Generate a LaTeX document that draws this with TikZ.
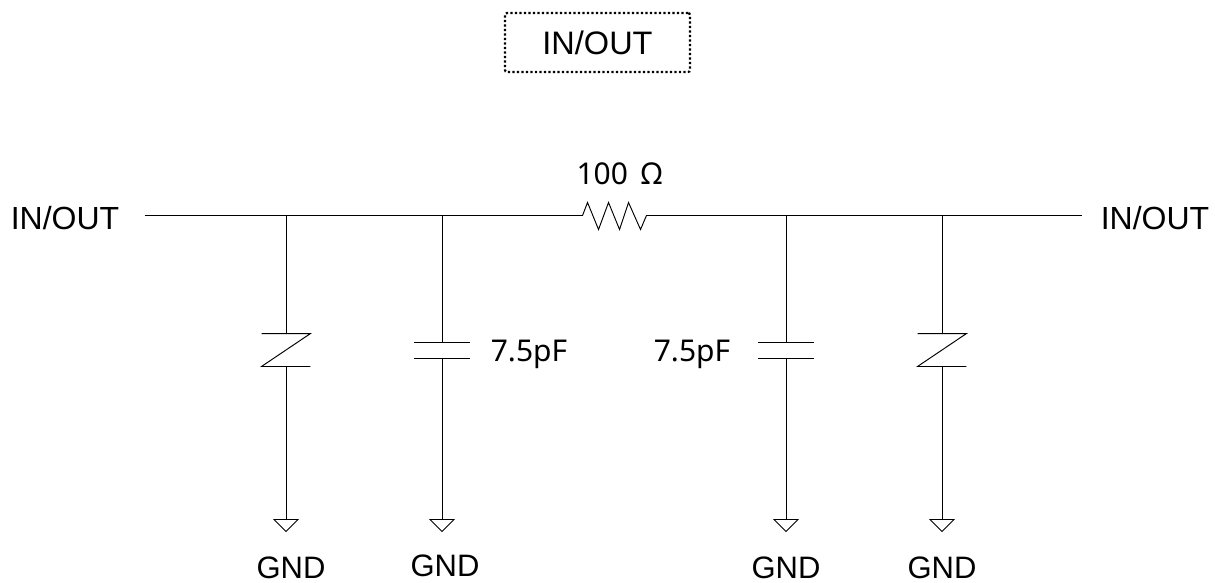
\documentclass[tikz,border=0pt]{standalone}
\usepackage{fontspec}
\setmainfont{Liberation Sans}
\newfontfamily\valuefont{Noto Sans}
\usetikzlibrary{shapes.geometric}
\tikzset{
    port/.style={font=\fontsize{32}{36}\selectfont, inner xsep=25pt, inner ysep=0pt},
    gndtext/.style={font=\fontsize{31}{36}\selectfont, inner sep=0pt},
    value/.style={font=\valuefont\fontsize{30}{36}\selectfont, inner sep=0pt},
    capbox/.style={minimum width=55pt, minimum height=15pt, inner sep=0pt},
    tvsbox/.style={minimum width=48pt, minimum height=32pt, inner sep=0pt},
    resbox/.style={minimum width=63pt, minimum height=27pt, inner sep=0pt},
    gndsym/.style={draw, isosceles triangle, shape border rotate=-90, isosceles triangle stretches,
        minimum width=24pt, minimum height=12pt, inner sep=0pt, anchor=lower side}
}
\begin{document}
\begin{tikzpicture}[x=1pt, y=-1pt, line width=0.95pt]
    \useasboundingbox (0,0) rectangle (1215,583);

                \node [draw, rounded corners=2pt, line width=2.2pt, dash pattern=on 2.2pt off 2.3pt,
                    minimum width=185pt, minimum height=59pt, font=\fontsize{32.5}{36}\selectfont, inner sep=0pt] (legend) at (597.5,42.5) {IN/OUT};

                \node [port] (inL) at (65,218) {IN/OUT};
                \node [port, inner xsep=18pt] (inR) at (1155,218) {IN/OUT};
                \node [resbox] (R1) at (614.5,215.5) {};
                \node [value] (R1val) at (619.5,174) {100\hspace{13pt}Ω};

                \coordinate (J1) at (286,215.5);
                \coordinate (J2) at (442,215.5);
                \coordinate (J3) at (786,215.5);
                \coordinate (J4) at (942,215.5);

                \node [tvsbox] (D1) at (286,350) {};
                \node [capbox] (C1) at (442,350.5) {};
                \node [capbox] (C2) at (786,350.5) {};
                \node [tvsbox] (D2) at (942,350) {};

                \node [value] (C1val) at (529,354) {7.5pF};
                \node [value] (C2val) at (692,354) {7.5pF};

                \node [gndsym] (G1) at (286,519) {};
                \node [gndsym] (G2) at (442,519) {};
                \node [gndsym] (G3) at (786,519) {};
                \node [gndsym] (G4) at (942,519) {};

                \node [gndtext] (G1txt) at (291,568) {GND};
                \node [gndtext] (G2txt) at (445,566) {GND};
                \node [gndtext] (G3txt) at (786,568) {GND};
                \node [gndtext] (G4txt) at (942,568) {GND};

                % Main line
                \draw (inL.east |- J1) -- (J1) -- (J2) -- (R1.west);
                \draw (R1.east) -- (J3) -- (J4) -- (inR.west |- J4);
                % Resistor
                \draw (R1.west) -- ++(5,-13) -- ++(11,27) -- ++(10,-27) -- ++(11,27) -- ++(9,-27) -- ++(12,27) -- (R1.east);
                % Capacitors
                \foreach \i/\j/\g in {1/2/2,2/3/3} {
                    \draw (C\i.north west) -- (C\i.north east);
                    \draw (C\i.south west) -- (C\i.south east);
                    \draw (J\j) -- (C\i.north);
                    \draw (C\i.south) -- (G\g.lower side);
                }
                % Diodes
                \foreach \i/\j/\g in {1/1/1,2/4/4} {
                    \draw (D\i.north west) -- (D\i.north east) -- (D\i.south west) -- (D\i.south east);
                    \draw (J\j) -- (D\i.north);
                    \draw (D\i.south) -- (G\g.lower side);
                }

            \end{tikzpicture}
\end{document}
